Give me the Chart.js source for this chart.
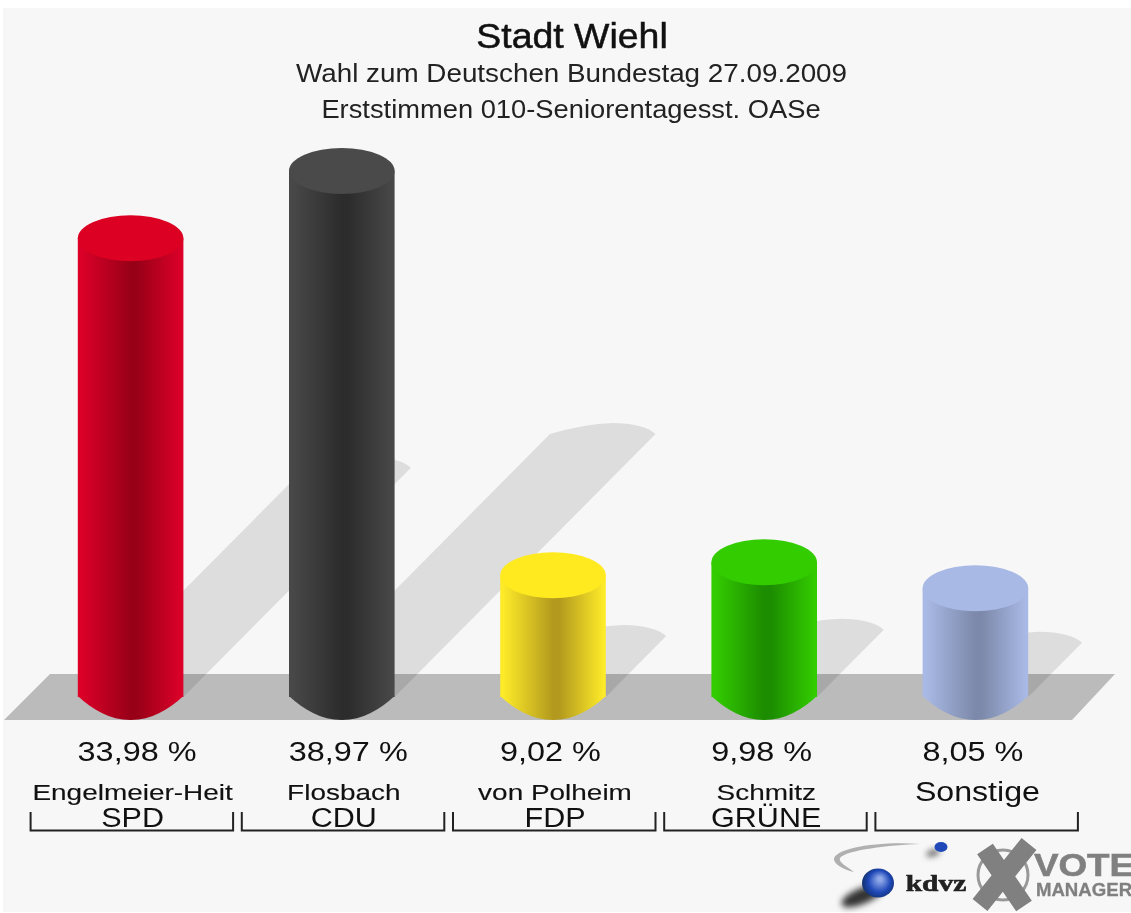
<!DOCTYPE html>
<html><head><meta charset="utf-8">
<style>html,body{margin:0;padding:0;background:#fff}canvas{display:block;filter:blur(0.6px)}</style>
<script src="https://cdn.jsdelivr.net/npm/chart.js@4"></script>
</head><body><canvas id="c" width="1131" height="913"></canvas>
<script>
const candidates = ['Engelmeier-Heit','Flosbach','von Polheim','Schmitz','Sonstige'];
const parties = ['SPD','CDU','FDP','GRÜNE',''];
const values = [33.98,38.97,9.02,9.98,8.05];
const valueLabels = ['33,98 %','38,97 %','9,02 %','9,98 %','8,05 %'];
const edgeColors = ['#dc0028','#484848','#fdea28','#33cc00','#a9b9e5'];
const darkColors = ['#980018','#2c2c2c','#b39a1e','#1c8c00','#7c89aa'];
const capColors = ['#dc0022','#4a4a4a','#ffea20','#33cc00','#a9b9e5'];
const titleLines = ['Stadt Wiehl','Wahl zum Deutschen Bundestag 27.09.2009','Erststimmen 010-Seniorentagesst. OASe'];
const FONT = '"Liberation Sans", Arial, sans-serif';
const RY = 23;

function sideGradient(ctx, x, w, i){
  const g = ctx.createLinearGradient(x-w/2,0,x+w/2,0);
  g.addColorStop(0.03,edgeColors[i]);
  g.addColorStop(0.5,darkColors[i]);
  g.addColorStop(0.56,darkColors[i]);
  g.addColorStop(0.98,edgeColors[i]);
  return g;
}
function text(ctx,s,x,y,font,color,sx,align,heavy){
  ctx.save();
  ctx.translate(x,y);ctx.scale(sx||1,1);
  ctx.font=font;ctx.fillStyle=color;ctx.textAlign=align||'center';ctx.textBaseline='middle';
  ctx.fillText(s,0,0);
  if(heavy){ctx.strokeStyle=color;ctx.lineWidth=heavy;ctx.strokeText(s,0,0);}
  ctx.restore();
}
const scene = {
  id:'scene',
  beforeDraw(chart){
    const {ctx,chartArea:a}=chart;
    ctx.save();
    ctx.fillStyle='#fff';ctx.fillRect(0,0,chart.width,chart.height);
    ctx.fillStyle='#f7f7f7';ctx.fillRect(3,8,chart.width-3,chart.height-9);
    const yb=a.bottom, floorBottom=yb+RY, floorTop=yb-RY;
    ctx.fillStyle='#bbbbbb';
    ctx.beginPath();
    ctx.moveTo(4,floorBottom);ctx.lineTo(1072,floorBottom);ctx.lineTo(1115,floorTop);ctx.lineTo(50,floorTop);
    ctx.closePath();ctx.fill();
    ctx.fillStyle='rgba(0,0,0,0.1)';
    chart.getDatasetMeta(0).data.forEach(b=>{
      const h=b.base-b.y, hw=b.width/2, dx=0.496*h, dy=0.5*h;
      const lx=b.x-hw+dx, rx=b.x+hw+dx, ty=b.base-dy;
      ctx.beginPath();
      ctx.moveTo(b.x-hw,b.base);
      ctx.lineTo(lx,ty);
      ctx.quadraticCurveTo(rx-72,ty-10,rx-43,ty-11);
      ctx.bezierCurveTo(rx-22,ty-11,rx-8,ty-7,rx,ty);
      ctx.lineTo(b.x+hw,b.base);
      ctx.closePath();ctx.fill();
    });
    ctx.restore();
  },
  afterDatasetsDraw(chart){
    const {ctx}=chart;
    ctx.save();
    chart.getDatasetMeta(0).data.forEach((b,i)=>{
      const hw=b.width/2;
      ctx.fillStyle=sideGradient(ctx,b.x,b.width,i);
      ctx.beginPath();ctx.moveTo(b.x-hw,b.base-1);
      ctx.bezierCurveTo(b.x-hw*0.72,b.base+RY*0.55,b.x-hw*0.4,b.base+RY,b.x,b.base+RY);
      ctx.bezierCurveTo(b.x+hw*0.4,b.base+RY,b.x+hw*0.72,b.base+RY*0.55,b.x+hw,b.base-1);
      ctx.closePath();ctx.fill();
      ctx.fillStyle=capColors[i];
      ctx.beginPath();ctx.ellipse(b.x,b.y,hw,RY,0,0,Math.PI*2);ctx.fill();
    });
    ctx.restore();
  },
  afterDraw(chart){
    const {ctx}=chart;
    ctx.save();
    text(ctx,titleLines[0],572,38,'35px '+FONT,'#111',1.07,'center',0.5);
    text(ctx,titleLines[1],571.5,75,'26px '+FONT,'#222',1.07);
    text(ctx,titleLines[2],571,111,'26px '+FONT,'#222',1.05);
    const xs=chart.scales.x;
    values.forEach((v,i)=>{
      const x=xs.getPixelForValue(i);
      text(ctx,valueLabels[i],x-53,754,'27px '+FONT,'#111',1.2,'left');
      if(parties[i]) text(ctx,candidates[i],x+2,794,'22px '+FONT,'#111',1.27,'center',0.15);
      else text(ctx,candidates[i],x+2,794,'27px '+FONT,'#111',1.19);
      if(parties[i]) text(ctx,parties[i],x+2,820,'27px '+FONT,'#111',1.13);
      const l=x-100,r=x+102.5;
      ctx.strokeStyle='#222';ctx.lineWidth=2;
      ctx.beginPath();ctx.moveTo(l,812);ctx.lineTo(l,830.5);ctx.lineTo(r,830.5);ctx.lineTo(r,812);ctx.stroke();
    });
    // logos
    ctx.fillStyle='#b0b0b0';
    ctx.beginPath();ctx.moveTo(920,844);ctx.bezierCurveTo(880,841,833,848,834,860);ctx.bezierCurveTo(836,866,846,870,854,872);
    ctx.bezierCurveTo(846,866,838,862,840,858);ctx.bezierCurveTo(846,850,890,845,920,844);ctx.fill();
    ctx.filter='blur(3px)';
    ctx.fillStyle='rgba(30,30,30,0.9)';
    ctx.beginPath();ctx.ellipse(862,896,22,8,-0.4,0,Math.PI*2);ctx.fill();
    ctx.fillStyle='rgba(40,40,40,0.8)';
    ctx.beginPath();ctx.ellipse(933,853,7,3,-0.3,0,Math.PI*2);ctx.fill();
    ctx.filter='none';
    let g=ctx.createRadialGradient(880,879,2,879,883,17);
    g.addColorStop(0,'#8fa8e8');g.addColorStop(0.6,'#1f48b8');g.addColorStop(1,'#12306c');
    ctx.fillStyle=g;ctx.beginPath();ctx.ellipse(878,883,16,14.5,0,0,Math.PI*2);ctx.fill();
    ctx.fillStyle='#1f48b8';ctx.beginPath();ctx.ellipse(941,847,6.5,5,0,0,Math.PI*2);ctx.fill();
    text(ctx,'kdvz',936,885,'bold 23px "Liberation Serif", serif','#222',1.28,'center',0.6);
    ctx.strokeStyle='#999';ctx.lineWidth=3;
    ctx.beginPath();ctx.ellipse(1003,875,25,25,0,0,Math.PI*2);ctx.stroke();
    ctx.strokeStyle='#808080';ctx.lineWidth=19;
    ctx.beginPath();ctx.moveTo(985,849);ctx.lineTo(1024,906);ctx.moveTo(1029,844);ctx.lineTo(980,905);ctx.stroke();
    text(ctx,'VOTE',1084,867,'bold 32px '+FONT,'#808080',1.15,'center',0.6);
    text(ctx,'MANAGER',1084,891,'bold 19px '+FONT,'#808080',0.98,'center',0.3);
    ctx.restore();
  }
};
new Chart(document.getElementById('c'),{
  type:'bar',
  data:{labels:candidates,datasets:[{data:values,barPercentage:0.5,categoryPercentage:1,
    backgroundColor(c){
      const a=c.chart.chartArea; if(!a||c.dataIndex===undefined) return '#000';
      const w=a.width/candidates.length*0.5;
      return sideGradient(c.chart.ctx,c.chart.scales.x.getPixelForValue(c.dataIndex),w,c.dataIndex);
    }}]},
  options:{responsive:false,animation:false,
    layout:{padding:{left:25,right:50,top:22,bottom:216}},
    plugins:{legend:{display:false},tooltip:{enabled:false}},
    scales:{x:{display:false},y:{display:false,min:0,max:50}}},
  plugins:[scene]
});
</script></body></html>
